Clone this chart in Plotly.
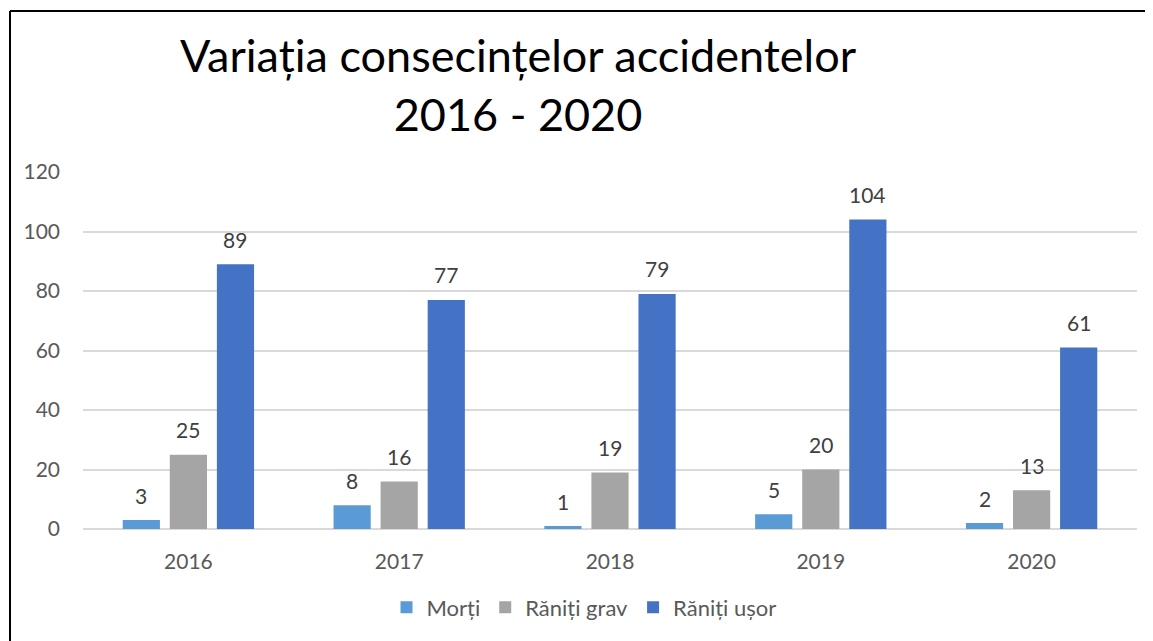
import plotly.graph_objects as go

WIN_W, WIN_H = 1153, 641
OFF = 8  # page body margin: the figure starts 8px in from the window corner
W, H = WIN_W - OFF, WIN_H - OFF
# plot area in window pixels: x 83..1137, y 172..531
ML, MR, MT, MB = 83 - OFF, W - (1137 - OFF), 172 - OFF, H - (531 - OFF)

years = ["2016", "2017", "2018", "2019", "2020"]
morti = [3, 8, 1, 5, 2]
raniti_grav = [25, 16, 19, 20, 13]
raniti_usor = [89, 77, 79, 104, 61]

series = [
    ("Morți", morti, "#5B9BD5"),
    ("Răniți grav", raniti_grav, "#A5A5A5"),
    ("Răniți ușor", raniti_usor, "#4472C4"),
]

FONT = "Lato, 'Open Sans', sans-serif"

fig = go.Figure()
for name, vals, color in series:
    fig.add_trace(go.Bar(x=years, y=vals, name=name, marker_color=color,
                         marker_line_width=0))

BARGAP, GROUPGAP = 0.33, 0.21
plot_w = W - ML - MR
plot_h = H - MT - MB
slot = plot_w / len(years) * (1 - BARGAP) / 3

# data labels sit well above each bar, like the Excel original
# (x given as category index so the year strings aren't read as numbers)
annotations = []
for i, (name, vals, color) in enumerate(series):
    for j, v in enumerate(vals):
        annotations.append(dict(x=j, y=v, text=str(v), showarrow=False,
                                xshift=(i - 1) * slot, yshift=25,
                                yanchor="middle",
                                font=dict(family=FONT, size=21, color="#404040")))


def px_x(p):
    # window pixel -> paper x
    return (p - OFF - ML) / plot_w


def px_y(p):
    # window pixel -> paper y
    return (H - MB - (p - OFF)) / plot_h


# frame lines (left and top edges of the chart border)
shapes = [
    dict(type="line", xref="paper", yref="paper", x0=px_x(10), x1=px_x(10),
         y0=px_y(WIN_H + 40), y1=px_y(10), line=dict(color="black", width=2)),
    dict(type="line", xref="paper", yref="paper", x0=px_x(10), x1=px_x(WIN_W + 40),
         y0=px_y(10), y1=px_y(10), line=dict(color="black", width=2)),
]

fig.update_layout(
    width=W, height=H,
    margin=dict(l=ML, r=MR, t=MT, b=MB),
    paper_bgcolor="white", plot_bgcolor="white",
    font=dict(family=FONT, size=21, color="#595959"),
    title=dict(text="Variația consecințelor accidentelor<br>2016 - 2020",
               x=(518 - OFF) / W, xanchor="center", y=1 - 64 / H, yanchor="top",
               font=dict(family=FONT, size=45, color="black")),
    barmode="group", bargap=BARGAP, bargroupgap=GROUPGAP,
    xaxis=dict(type="category", showgrid=False, showline=False, ticks="",
               ticklabelstandoff=18, tickfont=dict(size=21, color="#595959")),
    yaxis=dict(range=[0, 120], dtick=20, showgrid=True, gridcolor="#D9D9D9",
               gridwidth=1.5, zeroline=True, zerolinecolor="#D9D9D9",
               zerolinewidth=1.5, showline=False, ticks="",
               ticklabelstandoff=22, tickfont=dict(size=21, color="#595959")),
    legend=dict(orientation="h", x=px_x(584), xanchor="center",
                y=px_y(610), yanchor="middle",
                font=dict(size=22, color="#595959")),
    annotations=annotations,
    shapes=shapes,
)

fig.write_html("out.html", config={"displayModeBar": False})
